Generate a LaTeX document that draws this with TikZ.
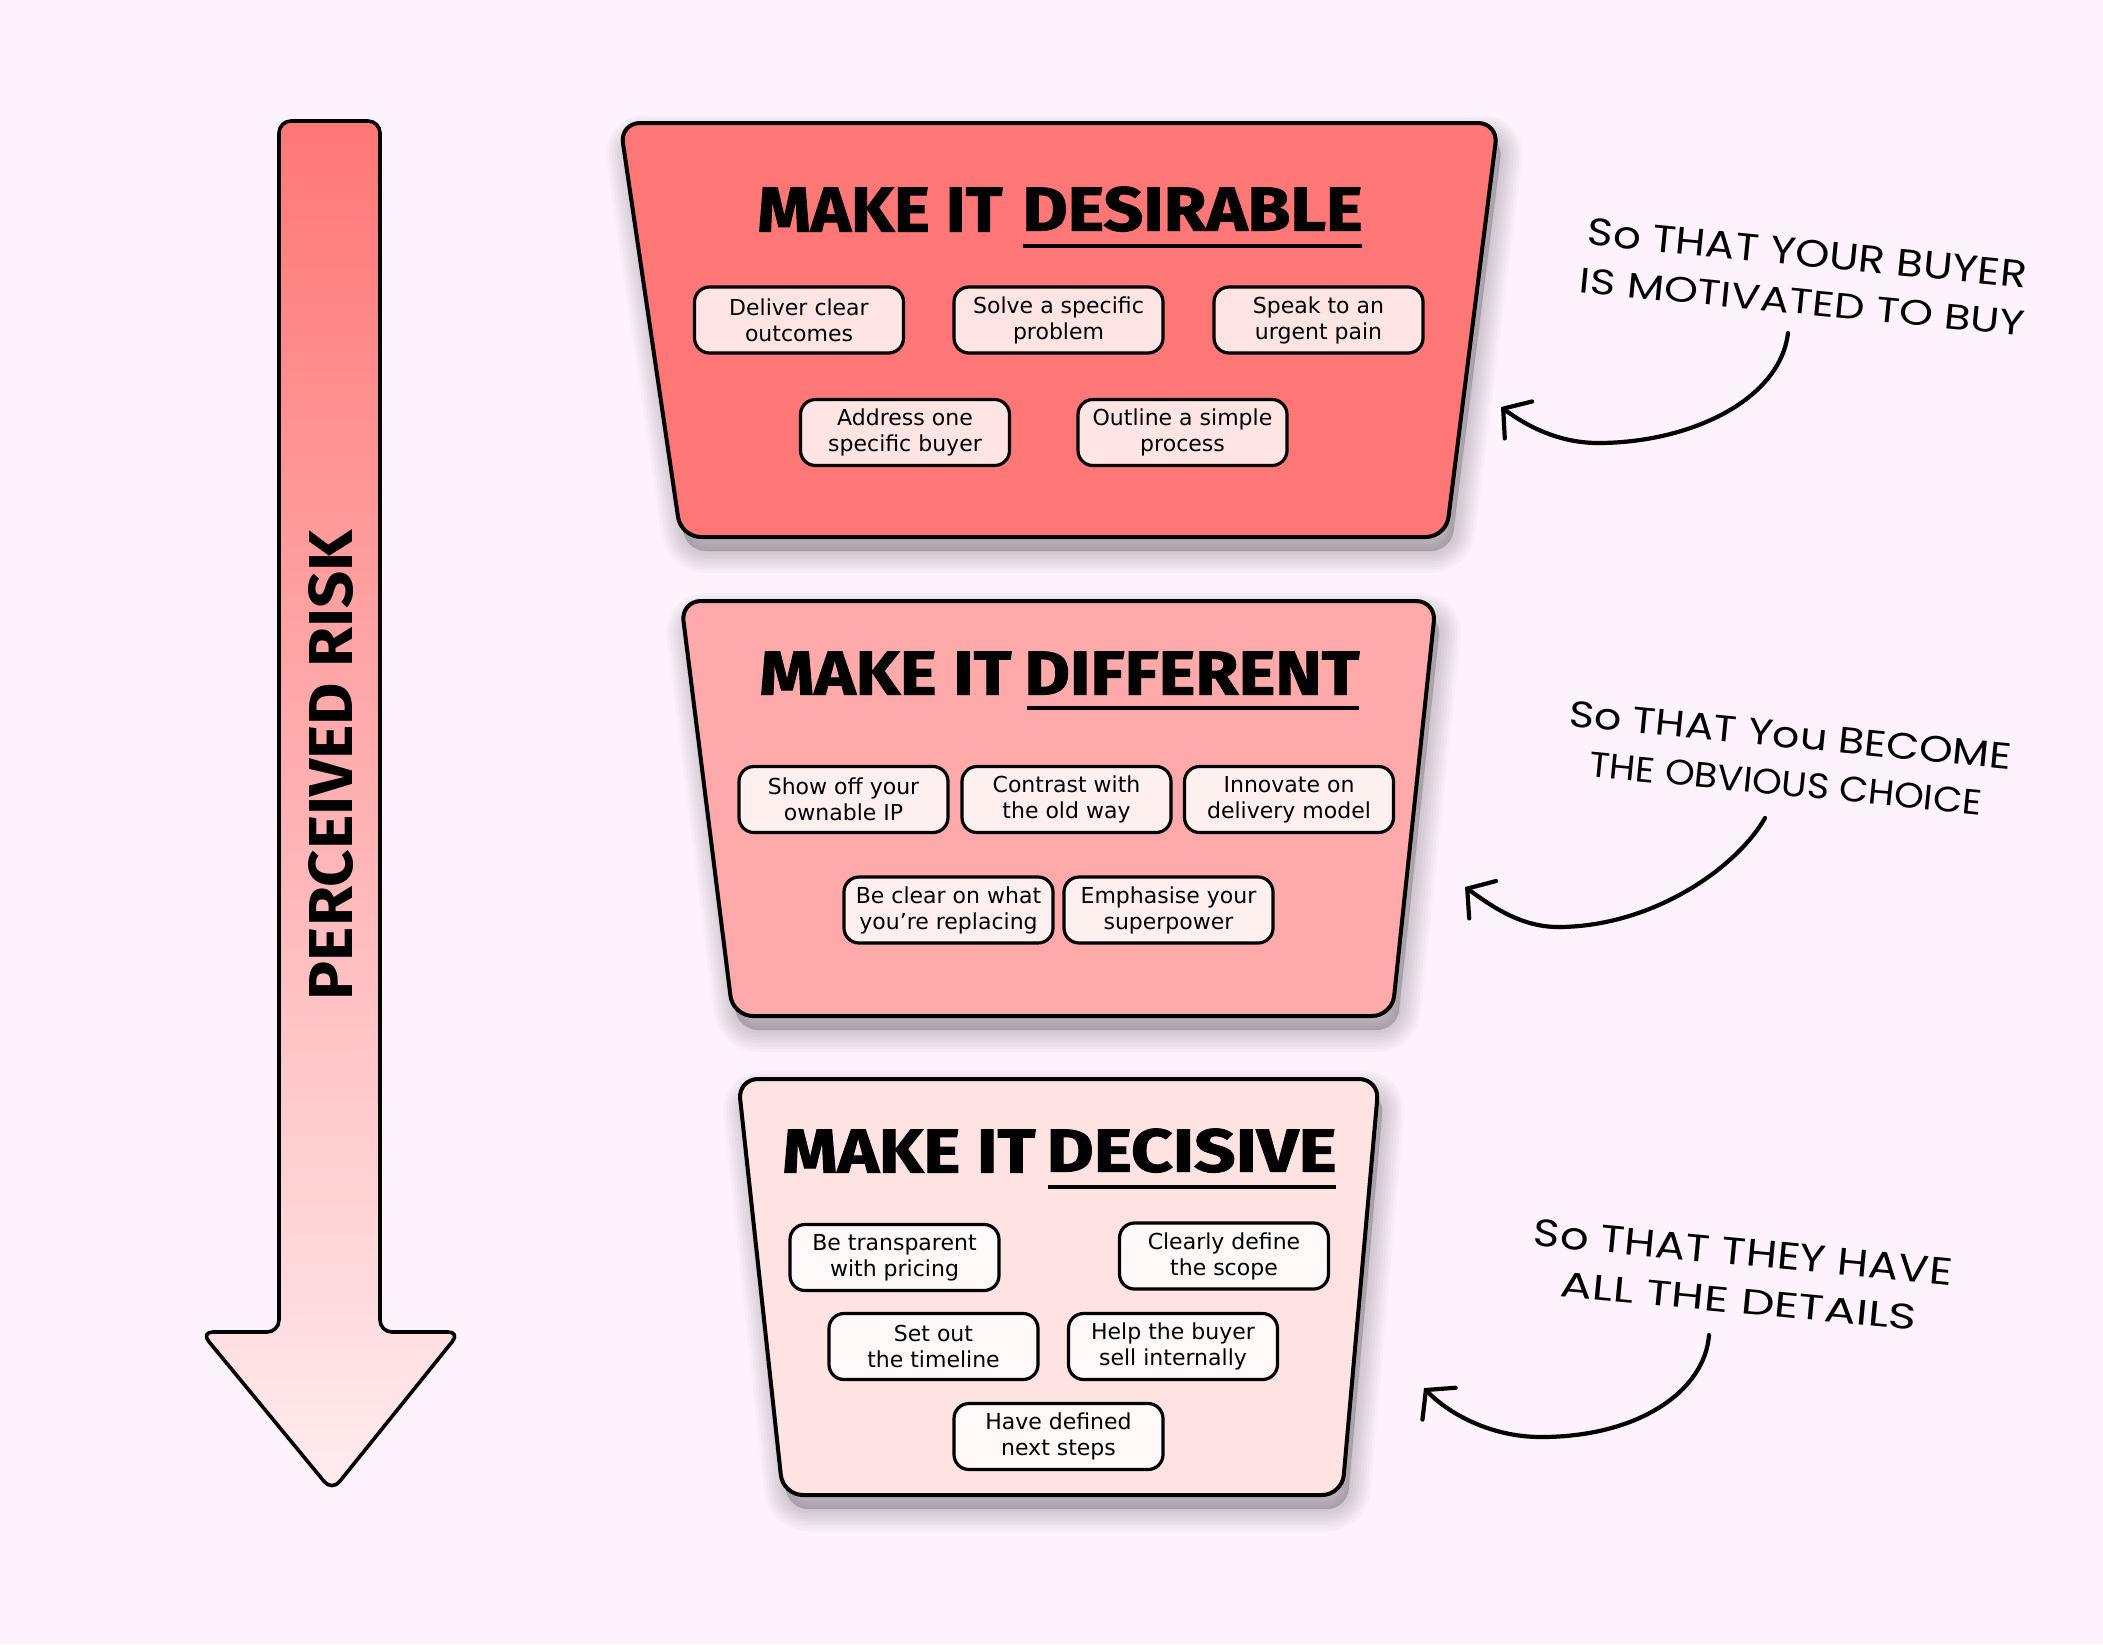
\documentclass[tikz,border=0pt]{standalone}
\usepackage{fontspec}
\setmainfont{DejaVu Sans}
\newfontfamily\titlefont{Fira Sans}
\newfontfamily\heavyfont{Fira Sans}[BoldFeatures={FakeBold=1.6}]
\newfontfamily\handfont{Poppins}
\usetikzlibrary{calc,arrows.meta}
\newlength{\pxu}\setlength{\pxu}{0.5pt}
\definecolor{bg}{HTML}{FDF3FD}
\definecolor{fA}{HTML}{FF7777}
\definecolor{fB}{HTML}{FFAAAA}
\definecolor{fC}{HTML}{FFE3E3}
\definecolor{bA}{HTML}{FFE4E4}
\definecolor{bB}{HTML}{FFF0F0}
\definecolor{bC}{HTML}{FFF9F9}
\definecolor{arTop}{HTML}{FF7777}
\definecolor{arBot}{HTML}{FFECEF}
\newcommand\pathA{(1059,123) -- (1498,123) -- (1446,537) -- (681,537) -- (620,123) -- cycle}
\newcommand\pathB{(1058,601) -- (1436,601) -- (1392,1016) -- (733,1016) -- (681,601) -- cycle}
\newcommand\pathC{(1058,1079) -- (1379,1079) -- (1342,1495) -- (783,1495) -- (738,1079) -- cycle}
\newcommand\ttlword[3]{\resizebox{#1\pxu}{#2\pxu}{\heavyfont\bfseries #3}}
\newcommand\handline[3]{\resizebox{#1\pxu}{#2\pxu}{#3}}
\begin{document}
\begin{tikzpicture}[x=0.5pt,y=-0.5pt,
  funnel/.style={draw=black, line width=2pt, rounded corners=10pt, line join=round},
  shadowlayer/.style={black, opacity=0.022, rounded corners=10pt, line join=round, shift={(5,14)}},
  item/.style={draw=black, line width=1.6pt, rounded corners=7.5pt, minimum width=104.5pt, minimum height=33pt, inner sep=0pt, align=center, font=\fontsize{11}{13}\selectfont},
  ttl/.style={inner sep=0pt, anchor=south west},
  uline/.style={line width=2pt},
  hand/.style={inner sep=0pt, align=center, font=\handfont\fontsize{20}{24}\selectfont},
  note/.style={line width=2.1pt, line cap=round, -{Straight Barb[length=9.5pt,width=23pt,line cap=round]}},
]
\useasboundingbox (0,0) rectangle (2103,1644);
\fill[bg] (0,0) rectangle (2103,1644);

% perceived risk arrow
\shadedraw[top color=arTop, bottom color=arBot, draw=black, line width=1.8pt, rounded corners=6pt, line join=round]
  (330,121) -- (380,121) -- (380,1332) -- (460,1332) -- (332,1491) -- (201,1332) -- (279,1332) -- (279,121) -- cycle;
\node[rotate=90, inner sep=0pt] (pr) at (331,765) {\resizebox{470\pxu}{44\pxu}{\titlefont\bfseries PERCEIVED RISK}};

% shadows
\foreach \w in {1,4,7,10,13,16,19,22} {
  \filldraw[shadowlayer, line width=\w pt] \pathA;
  \filldraw[shadowlayer, line width=\w pt] \pathB;
  \filldraw[shadowlayer, line width=\w pt] \pathC;
}

% funnel 1
\draw[funnel, fill=fA] \pathA;
\node[ttl] (t1a) at (757,232) {\ttlword{245}{44}{MAKE IT}};
\node[ttl] (t1b) at (1022,232) {\ttlword{340}{44}{DESIRABLE}};
\draw[uline] ($(t1b.south west)+(1,14)$) -- ($(t1b.south east)+(-1,14)$);
\node[item, fill=bA] (a1) at (799,320) {Deliver clear\\outcomes};
\node[item, fill=bA] (a2) at (1058.5,320) {Solve a specific\\problem};
\node[item, fill=bA] (a3) at (1318.5,320) {Speak to an\\urgent pain};
\node[item, fill=bA] (a4) at (905,432.5) {Address one\\specific buyer};
\node[item, fill=bA] (a5) at (1182.5,432.5) {Outline a simple\\process};

% funnel 2
\draw[funnel, fill=fB] \pathB;
\node[ttl] (t2a) at (759,695) {\ttlword{252}{43}{MAKE IT}};
\node[ttl] (t2b) at (1024,695) {\ttlword{335}{43}{DIFFERENT}};
\draw[uline] ($(t2b.south west)+(3,13)$) -- ($(t2b.south east)+(-1,13)$);
\node[item, fill=bB] (b1) at (843.5,799.5) {Show off your\\ownable IP};
\node[item, fill=bB] (b2) at (1066.5,799.5) {Contrast with\\the old way};
\node[item, fill=bB] (b3) at (1289,799.5) {Innovate on\\delivery model};
\node[item, fill=bB] (b4) at (948.5,910) {Be clear on what\\you’re replacing};
\node[item, fill=bB] (b5) at (1168.5,910) {Emphasise your\\superpower};

% funnel 3
\draw[funnel, fill=fC] \pathC;
\node[ttl] (t3a) at (782,1173) {\ttlword{253}{43}{MAKE IT}};
\node[ttl] (t3b) at (1046,1173) {\ttlword{290}{43}{DECISIVE}};
\draw[uline] ($(t3b.south west)+(2,14)$) -- ($(t3b.south east)+(-1,14)$);
\node[item, fill=bC] (c1) at (894.5,1257.5) {Be transparent\\with pricing};
\node[item, fill=bC] (c2) at (1224,1256) {Clearly define\\the scope};
\node[item, fill=bC] (c3) at (933.5,1346.5) {Set out\\the timeline};
\node[item, fill=bC] (c4) at (1173,1346.5) {Help the buyer\\sell internally};
\node[item, fill=bC] (c5) at (1058.5,1436.5) {Have defined\\next steps};

% annotations
\node[hand, rotate=-5.6] (n1) at (1805,277) {\handline{441}{27}{So THAT YOUR BUYER}\\\handline{447}{25}{IS MOTIVATED TO BUY}};
\coordinate (s1) at (1788,333);
\coordinate (p1) at (1501,407);
\draw[note] (s1) .. controls (1780,400) and (1690,443) .. (1598,443) .. controls (1560,443) and (1528,427) .. (p1);

\node[hand, rotate=-5.6] (n2) at (1788,759) {\handline{444}{26}{So THAT You BECOME}\\\handline{394}{25}{THE OBVIOUS CHOICE}};
\coordinate (s2) at (1765,818);
\coordinate (p2) at (1465,887);
\draw[note] (s2) .. controls (1735,870) and (1650,927) .. (1558,927) .. controls (1520,927) and (1490,905) .. (p2);

\node[hand, rotate=-5.4] (n3) at (1741,1276) {\handline{420}{27}{So THAT THEY HAVE}\\\handline{357}{25}{ALL THE DETAILS}};
\coordinate (s3) at (1709,1335);
\coordinate (p3) at (1424,1388);
\draw[note] (s3) .. controls (1705,1390) and (1640,1437) .. (1541,1437) .. controls (1490,1437) and (1448,1413) .. (p3);
\end{tikzpicture}
\end{document}
